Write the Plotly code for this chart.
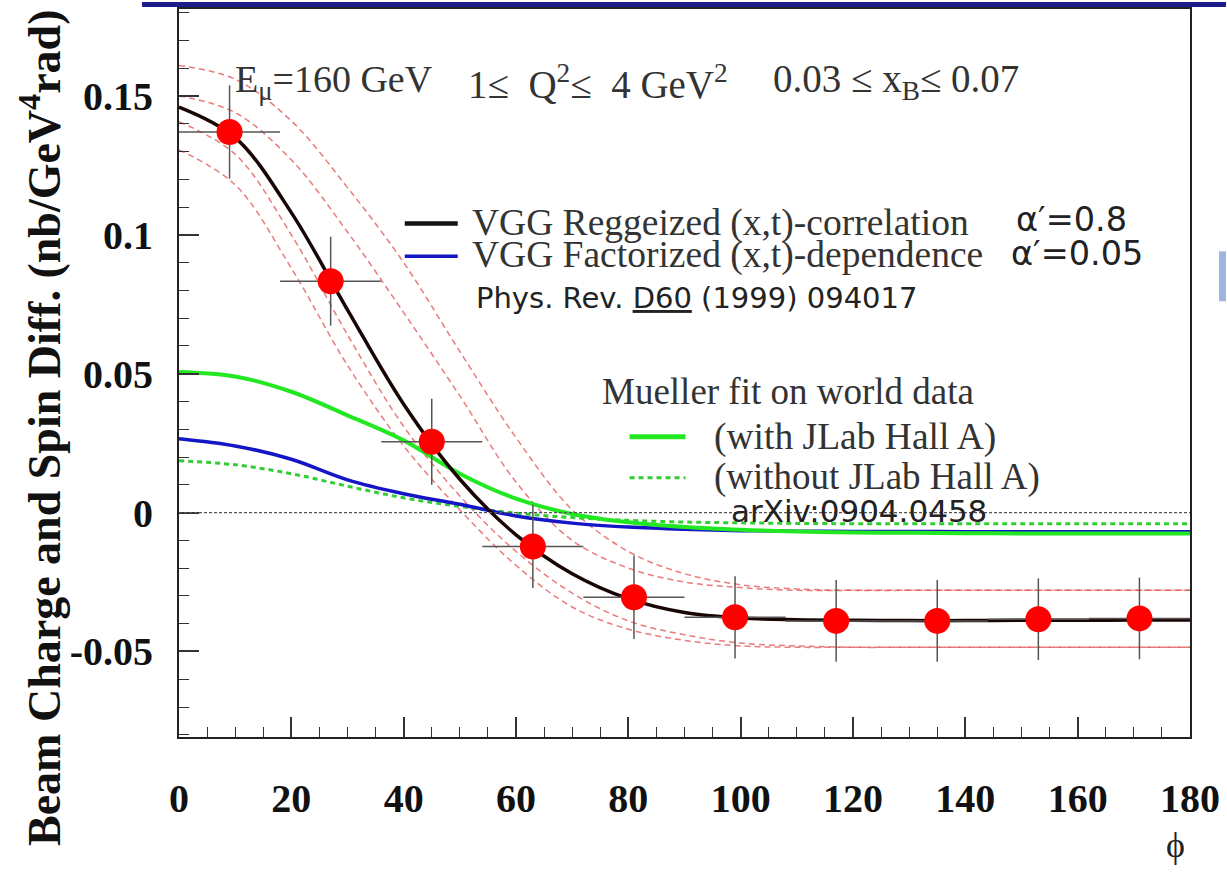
import plotly.graph_objects as go

# ---------------- data ----------------
phi_pts = [9, 27, 45, 63, 81, 99, 117, 135, 153, 171]
val_pts = [0.137, 0.0833, 0.0255, -0.0122, -0.0305, -0.0377, -0.0390, -0.0390, -0.0384, -0.0381]
err_pts = [0.0168, 0.0160, 0.0155, 0.0150, 0.0150, 0.0148, 0.0147, 0.0147, 0.0147, 0.0147]
xerr_pts = [9, 9, 9, 9, 9, 9, 9, 9, 9, 9]

phi_grid = [0, 10, 20, 30, 40, 50, 60, 70, 80, 90, 100, 110, 120, 130, 140, 150, 160, 170, 180]
vgg_regge = [0.146, 0.135, 0.108, 0.073, 0.039, 0.012, -0.008, -0.022, -0.031, -0.036, -0.0380,
             -0.0386, -0.0388, -0.0389, -0.0389, -0.0388, -0.0388, -0.0387, -0.0387]
band_up_outer = [0.161, 0.156, 0.141, 0.117, 0.090, 0.058, 0.027, 0.001, -0.014, -0.022, -0.026,
                 -0.0275, -0.028, -0.028, -0.028, -0.028, -0.028, -0.028, -0.028]
band_up_inner = [0.150, 0.144, 0.127, 0.101, 0.072, 0.042, 0.011, -0.010, -0.020, -0.025, -0.027,
                 -0.028, -0.028, -0.028, -0.028, -0.028, -0.028, -0.028, -0.028]
band_lo_inner = [0.1407, 0.129, 0.100, 0.064, 0.031, 0.006, -0.014, -0.029, -0.039, -0.044, -0.047,
                 -0.048, -0.0485, -0.0485, -0.0485, -0.0485, -0.0485, -0.0485, -0.0485]
band_lo_outer = [0.1306, 0.118, 0.088, 0.053, 0.024, 0.001, -0.019, -0.034, -0.042, -0.046, -0.048,
                 -0.0485, -0.0485, -0.0485, -0.0485, -0.0485, -0.0485, -0.0485, -0.0485]
vgg_fact = [0.0266, 0.0240, 0.0192, 0.0118, 0.0068, 0.0030, -0.0012, -0.0038, -0.0052, -0.0060, -0.0065,
            -0.0067, -0.0068, -0.0068, -0.0069, -0.0069, -0.0069, -0.0069, -0.0069]
mueller_with = [0.0506, 0.0490, 0.0435, 0.0350, 0.0260, 0.0140, 0.0050, -0.0005, -0.0035, -0.0052, -0.0062,
                -0.0068, -0.0072, -0.0073, -0.0074, -0.0075, -0.0075, -0.0075, -0.0075]
mueller_without = [0.0187, 0.0172, 0.0140, 0.0095, 0.0053, 0.0022, -0.0002, -0.0018, -0.0028, -0.0034,
                   -0.0037, -0.0039, -0.0040, -0.0040, -0.0040, -0.0040, -0.0040, -0.0040, -0.0040]

x_tickvals = [0, 20, 40, 60, 80, 100, 120, 140, 160, 180]
x_ticktext = ["0", "20", "40", "60", "80", "100", "120", "140", "160", "180"]
y_tickvals = [-0.05, 0, 0.05, 0.1, 0.15]
y_ticktext = ["-0.05", "0", "0.05", "0.1", "0.15"]

# ---------------- layout geometry (pixels) ----------------
WIDTH, HEIGHT = 1227, 874
L, R, T, B = 179, 1191, 7, 737
W, H = R - L, B - T


def px(x):
    return (x - L) / W


def py(y):
    return (B - y) / H


SERIF = "Liberation Serif, Times New Roman, serif"
SANS = "DejaVu Sans, Verdana, sans-serif"
TXT = "#333333"
NB = "\u00a0"

fig = go.Figure()

band_style = dict(color="rgba(225,80,80,0.75)", width=1.5, dash="6px,4px")
for band in (band_up_outer, band_up_inner, band_lo_inner, band_lo_outer):
    fig.add_trace(go.Scatter(x=phi_grid, y=band, mode="lines", line=dict(shape="spline", **band_style),
                             showlegend=False, hoverinfo="skip"))

fig.add_trace(go.Scatter(x=phi_grid, y=mueller_without, mode="lines",
                         line=dict(color="#33cc33", width=3, dash="5px,4px", shape="spline"), showlegend=False))
fig.add_trace(go.Scatter(x=phi_grid, y=vgg_fact, mode="lines",
                         line=dict(color="#1515c8", width=3.5, shape="spline"), showlegend=False))
fig.add_trace(go.Scatter(x=phi_grid, y=mueller_with, mode="lines",
                         line=dict(color="#22e822", width=4, shape="spline"), showlegend=False))
fig.add_trace(go.Scatter(x=phi_grid, y=vgg_regge, mode="lines",
                         line=dict(color="#1a0505", width=3.5, shape="spline"), showlegend=False))

fig.add_trace(go.Scatter(
    x=phi_pts, y=val_pts, mode="markers",
    marker=dict(color="#ff0000", size=26, line=dict(width=0)),
    error_y=dict(type="data", array=err_pts, color="#555555", thickness=1.5, width=0),
    error_x=dict(type="data", array=xerr_pts, color="#555555", thickness=1.5, width=0),
    showlegend=False))

shapes = []
# zero line (dotted)
shapes.append(dict(type="line", xref="paper", yref="y", x0=0, x1=1, y0=0, y1=0,
                   line=dict(color="#555555", width=1.2, dash="3px,2px")))
# slide decoration at top and right
shapes.append(dict(type="rect", xref="paper", yref="paper", x0=px(142), x1=px(1227), y0=py(5), y1=py(0),
                   line=dict(width=0), fillcolor="#1c1c8a"))
shapes.append(dict(type="rect", xref="paper", yref="paper", x0=px(1220), x1=px(1227), y0=py(300), y1=py(250),
                   line=dict(width=0), fillcolor="#9fb4e0"))
# legend samples
shapes.append(dict(type="line", xref="paper", yref="paper", x0=px(405), x1=px(458), y0=py(222), y1=py(222),
                   line=dict(color="#111111", width=4.5)))
shapes.append(dict(type="line", xref="paper", yref="paper", x0=px(405), x1=px(458), y0=py(255), y1=py(255),
                   line=dict(color="#1515c8", width=3.5)))
shapes.append(dict(type="line", xref="paper", yref="paper", x0=px(630), x1=px(686), y0=py(436), y1=py(436),
                   line=dict(color="#22e822", width=5)))
shapes.append(dict(type="line", xref="paper", yref="paper", x0=px(630), x1=px(686), y0=py(477), y1=py(477),
                   line=dict(color="#33cc33", width=3, dash="5px,4px")))

ann = []


def text(x, y, s, size, family=SERIF, color=TXT, xanchor="left", **kw):
    ann.append(dict(x=px(x), y=py(y), xref="paper", yref="paper", text=s, showarrow=False,
                    xanchor=xanchor, yanchor="middle", font=dict(family=family, size=size, color=color), **kw))


text(233, 80, "E<sub>μ</sub>=160 GeV", 38)
text(466, 80, "1≤" + NB * 2 + "Q<sup>2</sup>≤" + NB * 2 + "4 GeV<sup>2</sup>", 39)
text(772, 80, "0.03 ≤ x<sub>B</sub>≤ 0.07", 39)
text(470, 222, "VGG Reggeized (x,t)-correlation", 37.5)
text(470, 254, "VGG Factorized (x,t)-dependence", 37.5)
text(1015, 218, "α′=0.8", 33.5, family=SANS, color="#222222")
text(1010, 252, "α′=0.05", 33.5, family=SANS, color="#222222")
text(474, 297, "Phys. Rev. <u>D60</u> (1999) 094017", 29, family=SANS, color="#222222")
text(600, 391, "Mueller fit on world data", 37)
text(713, 436, "(with JLab Hall A)", 37.5)
text(713, 476, "(without JLab Hall A)", 37)
text(730, 510, "arXiv:0904.0458", 31, family=SANS, color="#222222")
text(1176, 845, "ϕ", 36, xanchor="center", color="#222222")
text(40, 427, "<b>Beam Charge and Spin Diff. (nb/GeV<sup>4</sup>rad)</b>", 46, xanchor="center",
     color="#111111", textangle=-90)

fig.update_layout(
    width=WIDTH, height=HEIGHT,
    margin=dict(l=L, r=WIDTH - R, t=T, b=HEIGHT - B, pad=0),
    paper_bgcolor="white", plot_bgcolor="white",
    shapes=shapes, annotations=ann,
    xaxis=dict(range=[0, 180], showgrid=False, zeroline=False,
               showline=True, linecolor="#222222", linewidth=2, mirror=True,
               ticks="inside", ticklen=20, tickwidth=1.5, tickcolor="#333333",
               tickvals=x_tickvals, ticktext=x_ticktext,
               minor=dict(ticks="inside", ticklen=10, tickwidth=1.2, tickcolor="#333333", dtick=5, tick0=0),
               tickfont=dict(family=SERIF, size=40, color="#111111", weight="bold"),
               ticklabelstandoff=25),
    yaxis=dict(range=[-0.0808, 0.1813], showgrid=False, zeroline=False,
               showline=True, linecolor="#222222", linewidth=2, mirror=True,
               ticks="inside", ticklen=20, tickwidth=1.5, tickcolor="#333333",
               tickvals=y_tickvals, ticktext=y_ticktext,
               minor=dict(ticks="inside", ticklen=10, tickwidth=1.2, tickcolor="#333333", dtick=0.01, tick0=0),
               tickfont=dict(family=SERIF, size=40, color="#111111", weight="bold"),
               ticklabelstandoff=16),
)

fig.write_html("out.html")
